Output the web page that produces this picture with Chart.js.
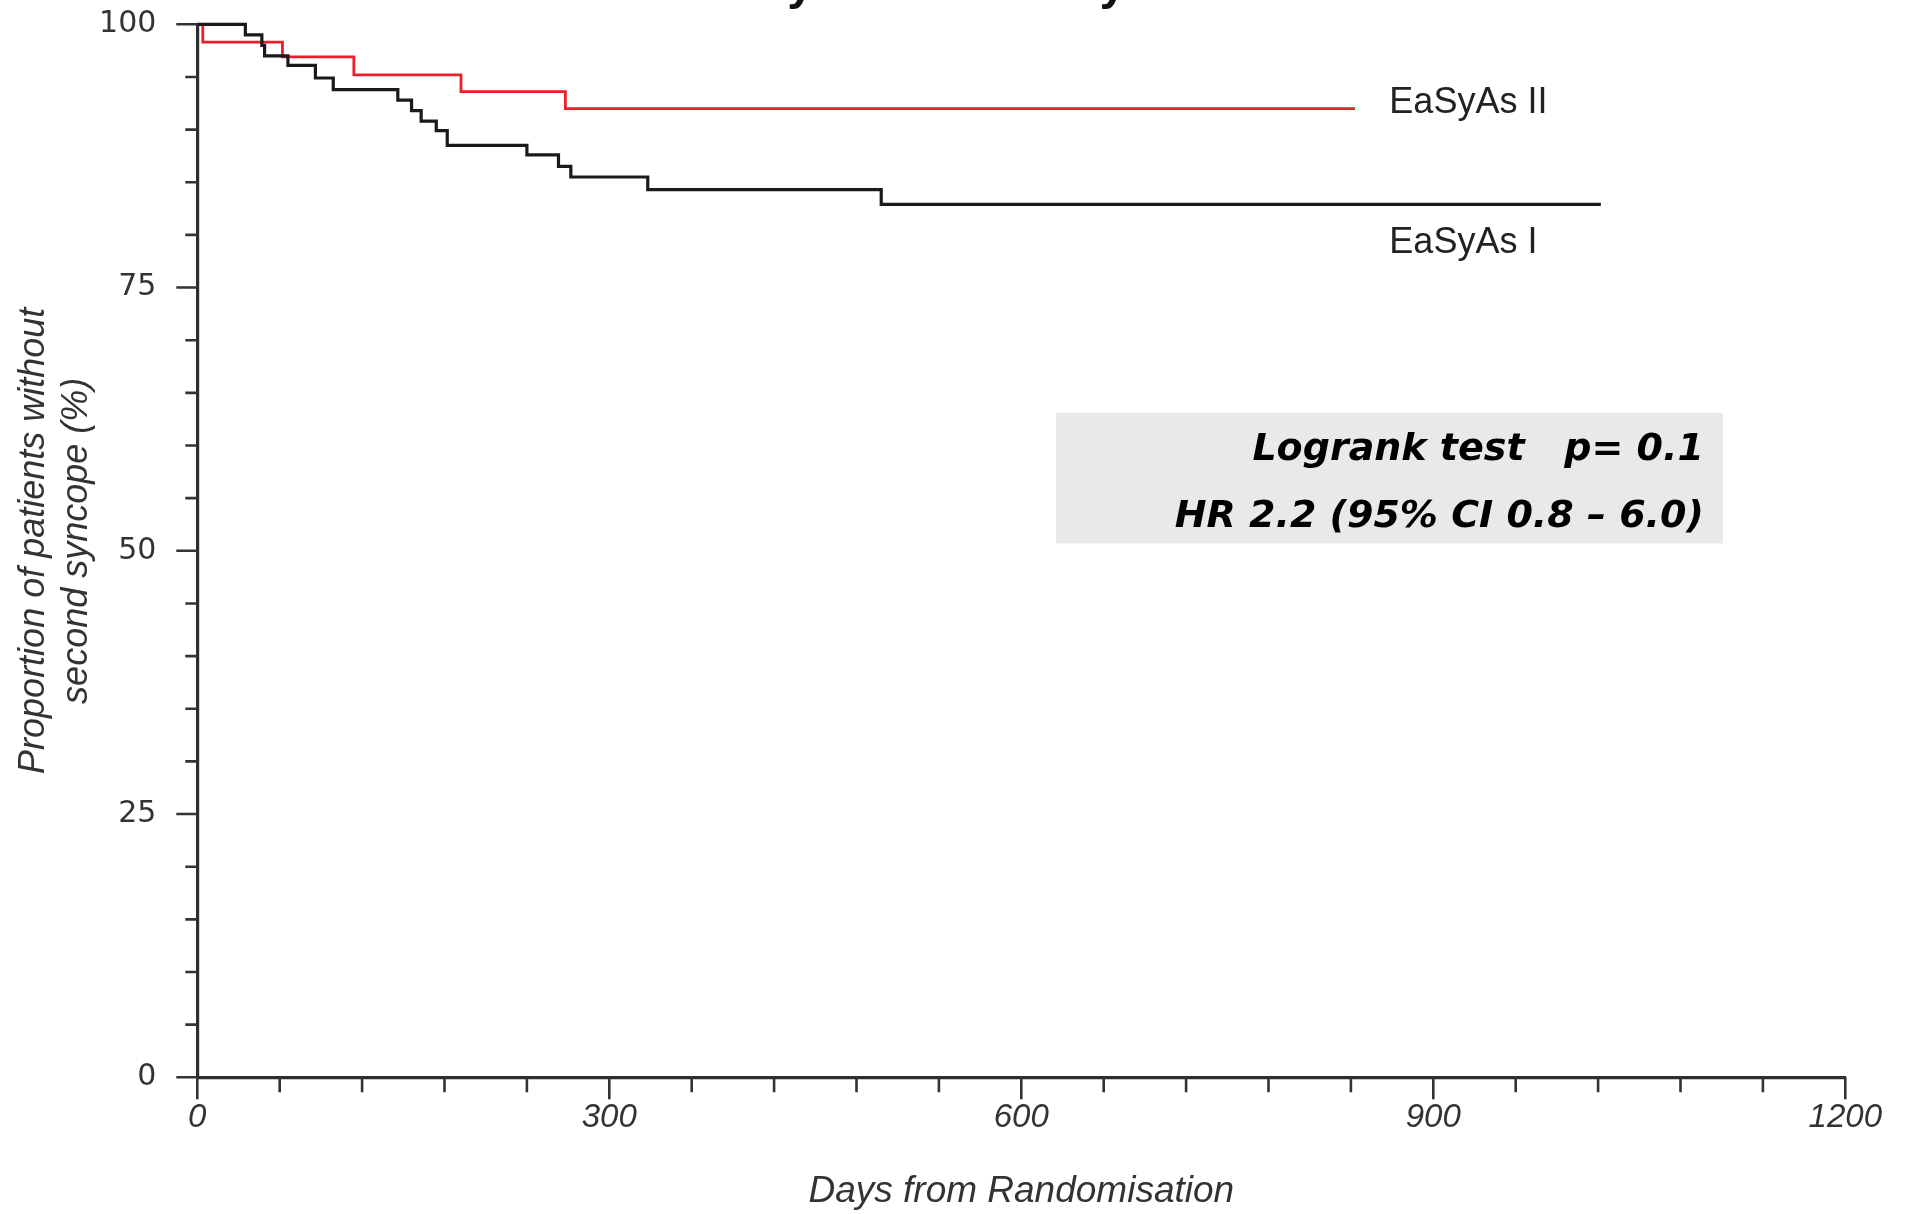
<!DOCTYPE html>
<html>
<head>
<meta charset="utf-8">
<title>EaSyAs I vs EaSyAs II</title>
<script src="https://cdn.jsdelivr.net/npm/chart.js@4.4.0/dist/chart.umd.min.js"></script>
<style>
  body { margin: 0; background: #fff; }
  .container { width: 1908px; height: 1214px; position: relative; }
</style>
</head>
<body>
<div class="container"><canvas id="myChart"></canvas></div>
<script>
// curves: days from randomisation, % without second syncope
let daysI = [0, 35, 47, 49, 66, 86, 99, 146, 156, 163, 174, 182, 240, 263, 272, 328, 498, 1022];
let survI = [100, 99.0, 98.0, 97.0, 96.1, 94.9, 93.8, 92.8, 91.8, 90.8, 89.9, 88.5, 87.6, 86.5, 85.5, 84.3, 82.9, 82.9];
let daysII = [0, 4, 62, 114, 192, 268, 843];
let survII = [100, 98.3, 96.9, 95.2, 93.6, 92.0, 92.0];

let xTicks = [0, 300, 600, 900, 1200];
let yTicks = [0, 25, 50, 75, 100];
let xMinorStep = 60;
let yMinorStep = 5;

let seriesNames = ['EaSyAs I', 'EaSyAs II'];
let statLines = ['Logrank test   p= 0.1', 'HR 2.2 (95% CI 0.8 \u2013 6.0)'];
let chartTitle = 'EaSyAs I  vs  EaSyAs II';

let sans = "'Liberation Sans', Arial, sans-serif";

function points(days, surv) {
    return days.map(function (d, i) {
        return {x: d, y: surv[i]};
    });
}

// stats box, tick marks, curve labels and the cut-off title
let extras = {
    id: 'extras',
    beforeDatasetsDraw: function (chart) {
        let ctx = chart.ctx, x = chart.scales.x, y = chart.scales.y;
        let left = x.getPixelForValue(625.3), top = y.getPixelForValue(63.1);
        ctx.save();
        ctx.fillStyle = '#e9e9e9';
        ctx.fillRect(left, top, x.getPixelForValue(1110.9) - left, y.getPixelForValue(50.7) - top);
        ctx.restore();
    },
    afterDraw: function (chart) {
        let ctx = chart.ctx, x = chart.scales.x, y = chart.scales.y;
        let area = chart.chartArea;
        ctx.save();

        // tick marks
        ctx.strokeStyle = '#333';
        ctx.lineWidth = 2.6;
        ctx.beginPath();
        for (let v = 0; v <= 1200; v += xMinorStep) {
            let px = x.getPixelForValue(v);
            let len = xTicks.includes(v) ? 22 : 15;
            ctx.moveTo(px, area.bottom);
            ctx.lineTo(px, area.bottom + len);
        }
        for (let v = 0; v <= 100; v += yMinorStep) {
            let py = y.getPixelForValue(v);
            let len = yTicks.includes(v) ? 21 : 12;
            ctx.moveTo(area.left, py);
            ctx.lineTo(area.left - len, py);
        }
        ctx.stroke();

        // curve labels
        ctx.fillStyle = '#222';
        ctx.font = '36px ' + sans;
        ctx.textAlign = 'left';
        ctx.textBaseline = 'alphabetic';
        ctx.fillText(seriesNames[1], x.getPixelForValue(868), y.getPixelForValue(91.6));
        ctx.fillText(seriesNames[0], x.getPixelForValue(868), y.getPixelForValue(78.3));

        // logrank text
        ctx.fillStyle = '#000';
        ctx.font = "italic bold 38px 'DejaVu Sans', sans-serif";
        ctx.textAlign = 'right';
        ctx.fillText(statLines[0], x.getPixelForValue(1097), y.getPixelForValue(58.6));
        ctx.fillText(statLines[1], x.getPixelForValue(1097), y.getPixelForValue(52.3));

        // title, mostly above the page edge
        ctx.fillStyle = '#111';
        ctx.font = 'bold 48px ' + sans;
        ctx.textAlign = 'center';
        ctx.fillText(chartTitle, 962, -1);
        ctx.restore();
    }
};

let ctx = document.getElementById('myChart').getContext('2d');
let chart = new Chart(ctx, {
    type: 'line',
    data: {
        datasets: [{
            label: seriesNames[0],
            data: points(daysI, survI),
            borderColor: '#1a1a1a',
            borderWidth: 3.2,
            stepped: true,
            pointRadius: 0,
            fill: false,
            clip: false
        }, {
            label: seriesNames[1],
            data: points(daysII, survII),
            borderColor: '#ea1f29',
            borderWidth: 2.8,
            stepped: true,
            pointRadius: 0,
            fill: false,
            clip: false
        }]
    },
    options: {
        responsive: true,
        maintainAspectRatio: false,
        animation: false,
        layout: {padding: {top: 24.3, right: 62.7, bottom: 0, left: 0}},
        plugins: {
            legend: {display: false},
            tooltip: {enabled: false}
        },
        scales: {
            x: {
                type: 'linear',
                min: 0,
                max: 1200,
                afterBuildTicks: function (scale) {
                    scale.ticks = xTicks.map(function (v) { return {value: v}; });
                },
                afterFit: function (scale) { scale.height = 136.7; },
                grid: {display: false, drawTicks: true, tickLength: 21},
                border: {display: true, color: '#2e2e2e', width: 3.2},
                ticks: {
                    padding: 0,
                    color: '#333',
                    autoSkip: false,
                    maxRotation: 0,
                    callback: function (value) { return String(value); },
                    font: {family: sans, size: 33, style: 'italic'}
                },
                title: {
                    display: true,
                    text: 'Days from Randomisation',
                    color: '#333',
                    padding: {top: 0, bottom: 0},
                    font: {family: sans, size: 37, style: 'italic'}
                }
            },
            y: {
                type: 'linear',
                min: 0,
                max: 100,
                afterBuildTicks: function (scale) {
                    scale.ticks = yTicks.map(function (v) { return {value: v}; });
                },
                afterFit: function (scale) { scale.width = 197.3; },
                grid: {display: false, drawTicks: true, tickLength: 41},
                border: {display: true, color: '#2e2e2e', width: 3.2},
                ticks: {
                    padding: 0,
                    color: '#333',
                    font: {family: "'DejaVu Sans', sans-serif", size: 30}
                },
                title: {
                    display: true,
                    text: ['  Proportion of patients without', '  second syncope (%)'],
                    color: '#333',
                    padding: {top: 12.4, bottom: 0},
                    font: {family: sans, size: 36, style: 'italic'}
                }
            }
        }
    },
    plugins: [extras]
});
</script>
</body>
</html>
